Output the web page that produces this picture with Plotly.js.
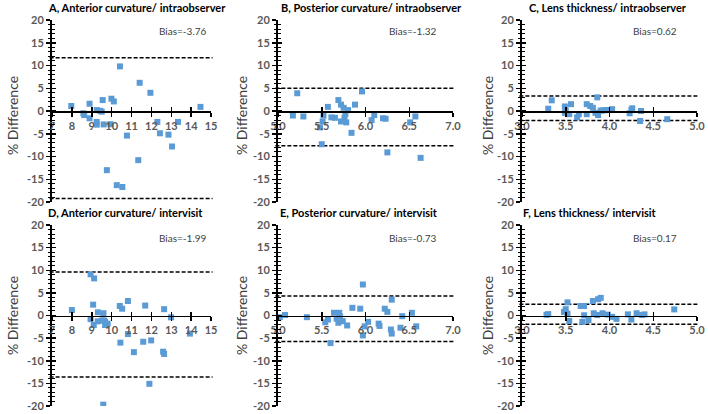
<!DOCTYPE html>
<html>
<head>
<meta charset="utf-8">
<script src="https://cdn.plot.ly/plotly-3.0.1.min.js"></script>
<style>
  html, body { margin: 0; padding: 0; background: #fff; }
  #chart { width: 708px; height: 414px; }
</style>
</head>
<body>
<div id="chart"></div>
<script>
// A, Anterior curvature / intraobserver
const aX = [7.97, 8.58, 8.62, 8.89, 8.89, 9.25, 9.25, 9.25, 9.42, 9.5, 9.55, 9.6, 9.76, 9.94, 9.99, 10.11, 10.26, 10.42, 10.54, 10.77, 11.34, 11.41, 11.95, 12.3, 12.43, 12.86, 13.04, 13.34, 14.47];
const aY = [1.1, -0.5, -0.9, 1.6, -1.6, 0.2, -2.4, -3.0, 0.05, -0.15, 2.4, -2.95, -13.0, -2.9, 2.7, 2.1, -16.3, 9.8, -16.7, -5.4, -10.8, 6.2, 4.0, -2.4, -4.9, -5.2, -7.8, -2.4, 0.9];
// B, Posterior curvature / intraobserver
const bX = [5.17, 5.22, 5.29, 5.48, 5.51, 5.5, 5.52, 5.57, 5.61, 5.65, 5.69, 5.72, 5.75, 5.77, 5.76, 5.72, 5.78, 5.8, 5.84, 5.88, 5.96, 6.07, 6.1, 6.2, 6.23, 6.25, 6.51, 6.57, 6.63];
const bY = [-1.0, 3.9, -1.2, -3.6, -2.3, -7.3, -1.0, 0.9, -1.4, -1.5, 2.4, 1.4, 0.7, -0.7, -1.5, -2.3, -2.5, 0.2, -4.8, 1.4, 4.3, -2.0, -0.9, -1.6, -1.7, -9.1, -2.5, -1.2, -10.3];
// C, Lens thickness / intraobserver
const cX = [3.3, 3.34, 3.49, 3.49, 3.54, 3.56, 3.63, 3.65, 3.74, 3.74, 3.78, 3.81, 3.84, 3.86, 3.87, 3.9, 3.96, 4.0, 4.03, 4.23, 4.25, 4.26, 4.36, 4.35, 4.66, 3.5, 3.93];
const cY = [0.5, 2.35, 1.0, -0.4, -0.7, 1.5, -1.4, -0.7, -0.7, 1.5, 1.1, 0.7, -0.4, 3.0, -0.9, 0.1, 0.2, 0.2, 0.4, -0.5, 0.2, 0.6, 0.0, -2.2, -1.8, 0.1, 0.15];
// D, Anterior curvature / intervisit
const dX = [8.0, 8.94, 9.12, 8.94, 9.07, 9.1, 9.31, 9.3, 9.51, 9.59, 9.62, 9.67, 9.67, 9.8, 9.58, 10.41, 10.44, 10.53, 10.82, 10.82, 11.12, 11.59, 11.69, 11.99, 11.9, 12.59, 12.64, 12.64, 12.99, 13.94];
const dY = [1.2, 9.1, 8.2, -0.8, 2.4, -2.1, 0.7, -1.3, -1.1, 0.5, -1.1, -1.4, -2.1, -1.8, -19.7, 2.1, -6.0, 1.5, 3.2, -4.1, -8.1, -5.8, 2.2, -5.5, -15.1, -8.0, -8.5, 1.4, -0.4, -4.0];
// E, Posterior curvature / intervisit
const eX = [5.02, 5.08, 5.33, 5.54, 5.57, 5.6, 5.64, 5.67, 5.69, 5.7, 5.71, 5.74, 5.79, 5.85, 5.94, 5.97, 5.99, 5.97, 6.03, 6.15, 6.16, 6.22, 6.25, 6.3, 6.29, 6.3, 6.42, 6.4, 6.53, 6.58];
const eY = [-0.37, 0.1, -0.37, -1.5, -0.9, -6.1, 0.6, -0.7, -1.6, 0.6, -0.2, -1.25, -2.2, 1.7, 1.5, 6.85, -2.4, -4.4, -1.4, -1.8, -2.3, 1.5, 0.8, 3.5, -3.1, -4.0, -0.15, -2.7, 0.6, -2.4];
// F, Lens thickness / intervisit
const fX = [3.28, 3.3, 3.48, 3.5, 3.52, 3.54, 3.52, 3.67, 3.71, 3.71, 3.69, 3.76, 3.81, 3.82, 3.87, 3.9, 3.86, 3.92, 3.98, 4.03, 4.08, 4.21, 4.25, 4.31, 4.37, 4.4, 4.74];
const fY = [0.15, 0.3, 0.8, 1.4, 2.9, -1.2, 0.4, 2.1, 2.1, 0.05, -1.4, -1.0, 3.2, 0.5, 3.6, 3.9, 0.1, 0.5, 0.2, -0.3, -0.75, 0.25, -0.9, 0.5, 0.1, 0.25, 1.35];

const panelTitles = [
  "A, Anterior curvature/ intraobserver",
  "B, Posterior curvature/ intraobserver",
  "C, Lens thickness/ intraobserver",
  "D, Anterior curvature/ intervisit",
  "E, Posterior curvature/ intervisit",
  "F, Lens thickness/ intervisit",
];
const biasLabels = ["Bias=-3.76", "Bias=-1.32", "Bias=0.62", "Bias=-1.99", "Bias=-0.73", "Bias=0.17"];
const upperLimits = [11.72, 5.0, 3.32, 9.6, 4.3, 2.47];
const lowerLimits = [-19.24, -7.65, -2.08, -13.58, -5.76, -1.95];
const xRanges = [[7, 15], [5, 7], [3, 5], [7, 15], [5, 7], [3, 5]];
const xSteps = [1, 0.5, 0.5, 1, 0.5, 0.5];
const yRange = [-20, 20];
const yTickVals = [-20, -15, -10, -5, 0, 5, 10, 15, 20];
const yTickText = ["-20", "-15", "-10", "-5", "0", "5", "10", "15", "20"];
const yTitle = "% Difference";

const xs = [aX, bX, cX, dX, eX, fX];
const ys = [aY, bY, cY, dY, eY, fY];

// layout bits (pixel positions turned into paper fractions)
const W = 708, H = 414;
const colDomains = [[52 / W, 211 / W], [278 / W, 453 / W], [522 / W, 697 / W]];
const rowDomains = [[1 - 202 / H, 1 - 20 / H], [1 - 406 / H, 1 - 225 / H]];
const titlePos = [[137, 8], [371, 8], [608, 8], [125, 213], [359, 213], [590, 213]];
const biasPos = [[209, 31], [439, 31], [679, 31], [209, 238], [439, 238], [679, 238]];
const yTitleX = [12, 241, 487];
const yTitleY = [116, 316];

const font = "Lato, 'Open Sans', sans-serif";
const tickFont = { family: font, size: 11, color: "#595959", weight: "bold" };

const data = [];
const layout = {
  width: W,
  height: H,
  margin: { l: 0, r: 0, t: 0, b: 0 },
  paper_bgcolor: "#fff",
  plot_bgcolor: "rgba(0,0,0,0)",
  showlegend: false,
  font: { family: font },
  shapes: [],
  annotations: [],
};

function suffix(n) {
  return n === 1 ? "" : String(n);
}

for (let i = 0; i < 6; i++) {
  const col = i % 3;
  const row = Math.floor(i / 3);
  const s = suffix(i + 1);
  const o = suffix(i + 7); // overlay axes give the crossing ticks
  const zeroPos = (rowDomains[row][0] + rowDomains[row][1]) / 2;
  const fmt = xSteps[i] < 1 ? ".1f" : "";

  layout["xaxis" + s] = {
    domain: colDomains[col],
    range: xRanges[i],
    dtick: xSteps[i],
    tick0: xRanges[i][0],
    tickformat: fmt,
    anchor: "free",
    position: zeroPos,
    showline: true,
    linecolor: "#000",
    linewidth: 1.5,
    ticks: "outside",
    ticklen: 4,
    tickwidth: 1.5,
    tickcolor: "#000",
    tickfont: tickFont,
    showgrid: false,
    zeroline: false,
    fixedrange: true,
  };
  layout["yaxis" + s] = {
    domain: rowDomains[row],
    range: yRange,
    tickmode: "array",
    tickvals: yTickVals,
    ticktext: yTickText,
    anchor: "x" + s,
    showline: true,
    linecolor: "#000",
    linewidth: 2,
    ticks: "outside",
    ticklen: 4,
    tickwidth: 1.5,
    tickcolor: "#000",
    minor: { dtick: 1, ticks: "outside", ticklen: 2.5, tickwidth: 1, tickcolor: "#000" },
    tickfont: tickFont,
    showgrid: false,
    zeroline: false,
    fixedrange: true,
  };
  layout["xaxis" + o] = {
    overlaying: "x" + s,
    range: xRanges[i],
    dtick: xSteps[i],
    tick0: xRanges[i][0],
    anchor: "free",
    position: zeroPos,
    showline: false,
    ticks: "inside",
    ticklen: 4,
    tickwidth: 1.5,
    tickcolor: "#000",
    showticklabels: false,
    showgrid: false,
    zeroline: false,
    fixedrange: true,
  };
  layout["yaxis" + o] = {
    overlaying: "y" + s,
    range: yRange,
    dtick: 5,
    anchor: "x" + o,
    showline: true,
    linecolor: "#000",
    linewidth: 2,
    ticks: "inside",
    ticklen: 4,
    tickwidth: 1.5,
    tickcolor: "#000",
    minor: { dtick: 1, ticks: "inside", ticklen: 2.5, tickwidth: 1, tickcolor: "#000" },
    showticklabels: false,
    showgrid: false,
    zeroline: false,
    fixedrange: true,
  };

  data.push({
    type: "scatter",
    mode: "markers",
    x: xs[i],
    y: ys[i],
    xaxis: "x" + s,
    yaxis: "y" + s,
    marker: { symbol: "square", size: 6, color: "#5B9BD5" },
    hoverinfo: "x+y",
  });
  data.push({
    type: "scatter",
    mode: "markers",
    x: [],
    y: [],
    xaxis: "x" + o,
    yaxis: "y" + o,
    hoverinfo: "skip",
  });

  [upperLimits[i], lowerLimits[i]].forEach(v => {
    layout.shapes.push({
      type: "line",
      xref: "x" + s + " domain",
      yref: "y" + s,
      x0: -0.015,
      x1: 1.01,
      y0: v,
      y1: v,
      line: { color: "#000", width: 1.5, dash: "4px,2px" },
      layer: "below",
    });
  });

  layout.annotations.push({
    text: "<b>" + panelTitles[i] + "</b>",
    xref: "paper", yref: "paper",
    x: titlePos[i][0] / W, y: 1 - titlePos[i][1] / H,
    xanchor: "center", yanchor: "middle",
    showarrow: false,
    font: { family: font, size: 11, color: "#000" },
  });
  layout.annotations.push({
    text: biasLabels[i],
    xref: "paper", yref: "paper",
    x: biasPos[i][0] / W, y: 1 - biasPos[i][1] / H,
    xanchor: "right", yanchor: "middle",
    showarrow: false,
    font: { family: font, size: 10, color: "#404040" },
  });
  layout.annotations.push({
    text: yTitle,
    xref: "paper", yref: "paper",
    x: yTitleX[col] / W, y: 1 - yTitleY[row] / H,
    xanchor: "center", yanchor: "middle",
    textangle: -90,
    showarrow: false,
    font: { family: font, size: 14, color: "#404040" },
  });
}

Plotly.newPlot("chart", data, layout, { displayModeBar: false, staticPlot: true });
</script>
</body>
</html>
